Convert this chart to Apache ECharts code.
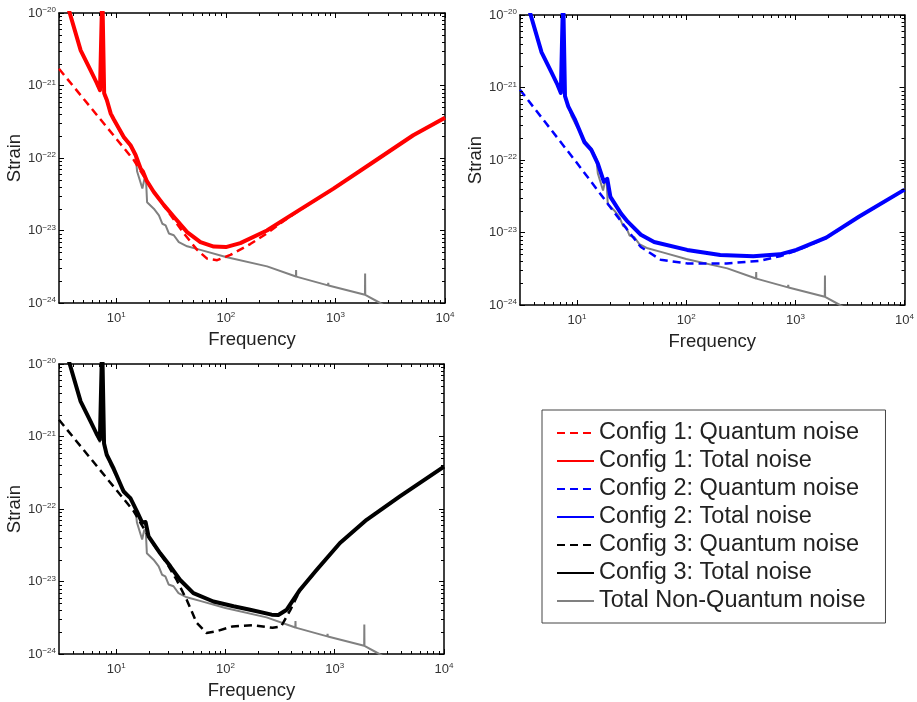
<!DOCTYPE html>
<html>
<head>
<meta charset="utf-8">
<script src="https://cdn.jsdelivr.net/npm/echarts@6/dist/echarts.min.js"></script>
<style>
  html, body { margin: 0; padding: 0; background: #fff; }
  #chart { width: 917px; height: 702px; }
</style>
</head>
<body>
<div id="chart"></div>
<script>
// Noise budgets: frequency in Hz, amplitude spectral density in strain/sqrt(Hz)

const nonQuantumFreq = [3.0, 3.76, 4.73, 5.83, 6.6, 7.1, 7.45, 7.55, 7.75, 8.2, 8.9, 9.5, 11.7, 13.5, 15.0, 15.5, 17.3, 18.1, 18.7, 19.1, 22.0, 24.5, 26.3, 28.2, 30.2, 33.5, 37.2, 44.3, 58.6, 100, 238, 436, 437.5, 439, 855, 860, 865, 1860, 1866, 1872, 2560, 3500];
const nonQuantumStrain = [3.2e-20, 1.0e-20, 3.0e-21, 1.6e-21, 1.07e-21, 8.3e-22, 2e-20, 2e-20, 7.4e-22, 6.0e-22, 4.0e-22, 3.3e-22, 1.86e-22, 1.45e-22, 1.05e-22, 6.5e-23, 3.8e-23, 5.2e-23, 4.8e-23, 2.45e-23, 2.0e-23, 1.62e-23, 1.24e-23, 1.18e-23, 9.1e-24, 8.6e-24, 6.9e-24, 6.05e-24, 5.4e-24, 4.3e-24, 3.2e-24, 2.32e-24, 2.85e-24, 2.31e-24, 1.75e-24, 1.9e-24, 1.74e-24, 1.3e-24, 2.55e-24, 1.29e-24, 1.0e-24, 7.6e-25];

const config1QuantumFreq = [3.0, 14.5, 20.5, 29.1, 41.4, 54.7, 67.4, 83.3, 110, 167, 237, 337, 415, 960, 2218, 5129, 10000];
const config1QuantumStrain = [1.7e-21, 9.3e-23, 4.0e-23, 1.9e-23, 9.1e-24, 5.4e-24, 4.1e-24, 3.9e-24, 4.6e-24, 6.5e-24, 9.1e-24, 1.35e-23, 1.68e-23, 3.76e-23, 8.78e-23, 2.055e-22, 3.59e-22];

const config1TotalFreq = [3.0, 3.76, 4.73, 5.83, 6.6, 7.1, 7.45, 7.55, 7.75, 8.2, 8.9, 9.5, 11.7, 13.5, 15.0, 16.7, 17.5, 18.1, 18.9, 22.0, 27.2, 33.5, 44.3, 58.6, 77.5, 100, 135.5, 237, 415, 960, 2218, 5129, 10000];
const config1TotalStrain = [3.2e-20, 1.0e-20, 3.05e-21, 1.62e-21, 1.1e-21, 8.6e-22, 2e-20, 2e-20, 7.8e-22, 6.3e-22, 4.1e-22, 3.4e-22, 1.95e-22, 1.5e-22, 1.1e-22, 7.1e-23, 6.5e-23, 6.8e-23, 4.9e-23, 3.4e-23, 2.24e-23, 1.55e-23, 9.5e-24, 6.9e-24, 6.0e-24, 5.9e-24, 6.7e-24, 1.0e-23, 1.71e-23, 3.78e-23, 8.8e-23, 2.06e-22, 3.6e-22];

const config2QuantumFreq = [3.0, 9.5, 19.1, 29.1, 38.4, 58.4, 102, 235, 474, 721, 1021, 1915, 3845, 10000];
const config2QuantumStrain = [9.3e-22, 1.0e-22, 2.5e-23, 1.07e-23, 6.3e-24, 4.2e-24, 3.75e-24, 3.75e-24, 4.07e-24, 4.7e-24, 5.6e-24, 8.4e-24, 1.65e-23, 3.88e-23];

const config2TotalFreq = [3.0, 3.76, 4.73, 5.83, 6.6, 7.1, 7.45, 7.55, 7.75, 8.3, 9.5, 11.7, 13.5, 15.5, 17.6, 18.9, 20.2, 25.3, 29.1, 38.4, 50.8, 102, 205, 412, 721, 1021, 1915, 3845, 10000];
const config2TotalStrain = [3.2e-20, 1.0e-20, 3.05e-21, 1.62e-21, 1.1e-21, 8.4e-22, 2e-20, 2e-20, 7.6e-22, 5.5e-22, 3.7e-22, 1.75e-22, 1.38e-22, 8.9e-23, 5.0e-23, 5.5e-23, 3.1e-23, 1.82e-23, 1.41e-23, 9.3e-24, 7.4e-24, 5.75e-24, 4.9e-24, 4.7e-24, 5.0e-24, 5.75e-24, 8.5e-24, 1.66e-23, 3.9e-23];

const config3QuantumFreq = [3.0, 14.5, 20.5, 29.1, 35.8, 44.2, 54.5, 67, 82.1, 116, 177, 270, 323, 391, 449, 482, 685, 1117, 1958, 3945, 10000];
const config3QuantumStrain = [1.7e-21, 9.3e-23, 3.8e-23, 1.78e-23, 1.05e-23, 5.6e-24, 2.7e-24, 1.95e-24, 2.05e-24, 2.4e-24, 2.5e-24, 2.3e-24, 2.4e-24, 4.0e-24, 6.1e-24, 7.6e-24, 1.44e-23, 3.38e-23, 7.09e-23, 1.488e-22, 3.84e-22];

const config3TotalFreq = [3.0, 3.76, 4.73, 5.83, 6.6, 7.1, 7.45, 7.55, 7.75, 8.2, 9.5, 11.7, 13.5, 15.5, 17.3, 18.6, 19.8, 25.3, 31.3, 38.5, 50.9, 77.6, 118.6, 168, 265, 305, 364, 482, 685, 1117, 1958, 3945, 10000];
const config3TotalStrain = [3.2e-20, 1.0e-20, 3.05e-21, 1.62e-21, 1.1e-21, 9.0e-22, 2e-20, 2e-20, 8.0e-22, 5.6e-22, 3.6e-22, 1.74e-22, 1.41e-22, 9.3e-23, 6.5e-23, 6.6e-23, 4.2e-23, 2.45e-23, 1.62e-23, 1.05e-23, 6.9e-24, 5.3e-24, 4.55e-24, 4.08e-24, 3.49e-24, 3.45e-24, 4.08e-24, 7.7e-24, 1.45e-23, 3.39e-23, 7.1e-23, 1.49e-22, 3.85e-22];

const legendNames = [
  'Config 1: Quantum noise',
  'Config 1: Total noise',
  'Config 2: Quantum noise',
  'Config 2: Total noise',
  'Config 3: Quantum noise',
  'Config 3: Total noise',
  'Total Non-Quantum noise'
];

const freqRange = [3, 1e4];
const strainRange = [1e-24, 1e-20];
// strain is plotted in units of 1e-24 so the log scale works on moderate numbers
const STRAIN_UNIT_EXP = -24;
const STRAIN_UNIT = Math.pow(10, STRAIN_UNIT_EXP);

const FONT = '"Liberation Sans", Arial, Helvetica, sans-serif';
const GRAY = '#808080';

const pairs = (xs, ys) => xs.map((x, i) => [x, ys[i] / STRAIN_UNIT]);
const yMin = strainRange[0] / STRAIN_UNIT;
const yMax = strainRange[1] / STRAIN_UNIT;

// one entry per panel: grid box and the curves it holds
const panels = [
  { grid: { left: 59, top: 13, width: 386, height: 290 }, color: '#ff0000',
    quantum: pairs(config1QuantumFreq, config1QuantumStrain), total: pairs(config1TotalFreq, config1TotalStrain),
    qName: legendNames[0], tName: legendNames[1] },
  { grid: { left: 520, top: 15, width: 386, height: 290 }, color: '#0000ff',
    quantum: pairs(config2QuantumFreq, config2QuantumStrain), total: pairs(config2TotalFreq, config2TotalStrain),
    qName: legendNames[2], tName: legendNames[3] },
  { grid: { left: 59, top: 364, width: 385, height: 290 }, color: '#000000',
    quantum: pairs(config3QuantumFreq, config3QuantumStrain), total: pairs(config3TotalFreq, config3TotalStrain),
    qName: legendNames[4], tName: legendNames[5] }
];
const nonQuantum = pairs(nonQuantumFreq, nonQuantumStrain);

function powerText(exp) {
  return '{b|10}{s|' + (exp < 0 ? '\u2212' + (-exp) : String(exp)) + '}';
}
function decadeExp(v) {
  const e = Math.log10(v);
  const r = Math.round(e);
  return Math.abs(e - r) > 1e-6 ? null : r;
}
const freqLabel = v => { const r = decadeExp(v); return r === null ? '' : powerText(r); };
const strainLabel = v => { const r = decadeExp(v); return r === null ? '' : powerText(r + STRAIN_UNIT_EXP); };

const labelRich = {
  b: { fontSize: 13, color: '#333', fontFamily: FONT },
  s: { fontSize: 8, color: '#333', fontFamily: FONT, verticalAlign: 'top', padding: [0, 0, 6, 0] }
};
const frame = { show: true, onZero: false, lineStyle: { color: '#000', width: 1.5 } };
const tickIn = { show: true, inside: true, length: 5, lineStyle: { color: '#000', width: 1 } };

// minor tick positions at 2..9 of every decade inside the axis ranges
function minorValues(lo, hi) {
  const out = [];
  for (let e = Math.floor(Math.log10(lo)); e <= Math.ceil(Math.log10(hi)); e++) {
    for (let m = 2; m <= 9; m++) {
      const v = m * Math.pow(10, e);
      if (v > lo && v < hi) out.push(v);
    }
  }
  return out;
}
const minorX = minorValues(freqRange[0], freqRange[1]);
const minorY = minorValues(yMin, yMax);

function minorTickRender(params, api) {
  const cs = params.coordSys;
  const children = [];
  const L = 3;
  const style = { stroke: '#000', lineWidth: 1 };
  minorX.forEach(v => {
    const x = Math.round(api.coord([v, yMin])[0]) + 0.5;
    children.push({ type: 'line', shape: { x1: x, y1: cs.y + cs.height, x2: x, y2: cs.y + cs.height - L }, style });
    children.push({ type: 'line', shape: { x1: x, y1: cs.y, x2: x, y2: cs.y + L }, style });
  });
  minorY.forEach(v => {
    const y = Math.round(api.coord([freqRange[0], v])[1]) + 0.5;
    children.push({ type: 'line', shape: { x1: cs.x, y1: y, x2: cs.x + L, y2: y }, style });
    children.push({ type: 'line', shape: { x1: cs.x + cs.width, y1: y, x2: cs.x + cs.width - L, y2: y }, style });
  });
  return { type: 'group', children };
}

const grids = [], xAxes = [], yAxes = [], series = [];
panels.forEach(p => grids.push(Object.assign({}, p.grid)));
panels.forEach((p, i) => {
  xAxes.push({
    type: 'log', logBase: 10, gridIndex: i, min: freqRange[0], max: freqRange[1],
    name: 'Frequency', nameLocation: 'middle', nameGap: 27,
    nameTextStyle: { fontSize: 18.5, color: '#222', fontFamily: FONT },
    axisLine: frame, axisTick: tickIn, splitLine: { show: false },
    axisLabel: { margin: 8, formatter: freqLabel, rich: labelRich, showMinLabel: false }
  });
  yAxes.push({
    type: 'log', logBase: 10, gridIndex: i, min: yMin, max: yMax,
    name: 'Strain', nameLocation: 'middle', nameGap: 34,
    nameTextStyle: { fontSize: 18.5, color: '#222', fontFamily: FONT },
    axisLine: frame, axisTick: tickIn, splitLine: { show: false },
    axisLabel: { margin: 3, formatter: strainLabel, rich: labelRich }
  });
});
panels.forEach((p, i) => {
  xAxes.push({
    type: 'log', logBase: 10, gridIndex: i, position: 'top', min: freqRange[0], max: freqRange[1],
    axisLine: frame, axisTick: tickIn, splitLine: { show: false }, axisLabel: { show: false }
  });
  yAxes.push({
    type: 'log', logBase: 10, gridIndex: i, position: 'right', min: yMin, max: yMax,
    axisLine: frame, axisTick: tickIn, splitLine: { show: false }, axisLabel: { show: false }
  });
});
panels.forEach((p, i) => {
  const common = { type: 'line', xAxisIndex: i, yAxisIndex: i, symbol: 'none', showSymbol: false, clip: true };
  series.push(Object.assign({}, common, {
    name: p.qName, data: p.quantum, z: 3,
    lineStyle: { color: p.color, width: 2.5, type: [8, 5], join: 'round' }, itemStyle: { color: p.color }
  }));
  series.push(Object.assign({}, common, {
    name: legendNames[6], data: nonQuantum, z: 2,
    lineStyle: { color: GRAY, width: 2 }, itemStyle: { color: GRAY }
  }));
  series.push(Object.assign({}, common, {
    name: p.tName, data: p.total, z: 4,
    lineStyle: { color: p.color, width: 4, join: 'round' }, itemStyle: { color: p.color }
  }));
  series.push({
    type: 'custom', xAxisIndex: i, yAxisIndex: i, data: [[freqRange[0], yMin]],
    renderItem: minorTickRender, silent: true, clip: false, z: 5
  });
});

const chart = echarts.init(document.getElementById('chart'), null, { renderer: 'canvas' });
chart.setOption({
  animation: false,
  backgroundColor: '#fff',
  grid: grids,
  xAxis: xAxes,
  yAxis: yAxes,
  legend: {
    data: legendNames,
    orient: 'vertical',
    left: 542, top: 410,
    padding: [11, 20, 10, 14],
    itemWidth: 37, itemHeight: 12, itemGap: 4,
    itemStyle: { opacity: 0 },
    borderColor: '#444', borderWidth: 1,
    selectedMode: false,
    textStyle: { fontSize: 23.5, lineHeight: 24, color: '#222', fontFamily: FONT }
  },
  series: series
});
</script>
</body>
</html>
